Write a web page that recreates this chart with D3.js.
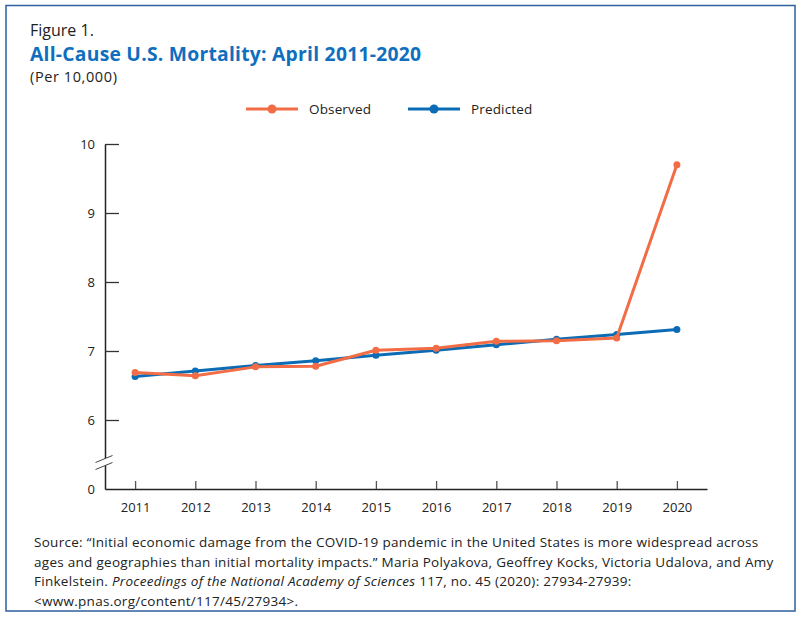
<!DOCTYPE html>
<html><head><meta charset="utf-8">
<script src="https://cdn.jsdelivr.net/npm/d3@7"></script>
<style>
html,body{margin:0;padding:0;background:#fff;}
svg{display:block;font-family:"Open Sans",sans-serif;}
</style></head>
<body><svg id="c" width="800" height="617"></svg>
<script>
const years = [2011,2012,2013,2014,2015,2016,2017,2018,2019,2020];
const observed = [6.69,6.64,6.77,6.78,7.01,7.04,7.14,7.15,7.19,9.70];
const predicted = [6.63,6.71,6.79,6.86,6.94,7.01,7.09,7.17,7.24,7.31];
const yTicks = [5,6,7,8,9,10];
const yTickLabels = ["0","6","7","8","9","10"];
const seriesNames = ["Observed","Predicted"];
const seriesColors = ["#f26d45","#0b6cb5"];
const sourceLines = [
  [{t:"Source: \u201cInitial economic damage from the COVID-19 pandemic in the United States is more widespread across"}],
  [{t:"ages and geographies than initial mortality impacts.\u201d Maria Polyakova, Geoffrey Kocks, Victoria Udalova, and Amy"}],
  [{t:"Finkelstein. "},{t:"Proceedings of the National Academy of Sciences",i:true},{t:" 117, no. 45 (2020): 27934-27939:"}],
  [{t:"<www.pnas.org/content/117/45/27934>."}]
];

const svg = d3.select("#c");
svg.append("rect").attr("x",6).attr("y",5.5).attr("width",789).attr("height",605.5)
  .attr("fill","#fff").attr("stroke","#2e5f9e").attr("stroke-width",1.5);

svg.append("text").attr("x",30).attr("y",36.3).attr("font-size",16).attr("fill","#222").text("Figure 1.");
svg.append("text").attr("x",30).attr("y",61).attr("font-size",19.3).attr("letter-spacing",0.25).attr("font-weight","bold").attr("fill","#0f6fbe").text("All-Cause U.S. Mortality: April 2011-2020");
svg.append("text").attr("x",30).attr("y",81.5).attr("font-size",14.5).attr("letter-spacing",0.6).attr("fill","#222").text("(Per 10,000)");

const x = d3.scaleLinear().domain([2010.5,2020.5]).range([105,707]);
const y = d3.scaleLinear().domain([5,10]).range([489,144]);

// legend
const legX = [246,408];
seriesNames.forEach((n,i)=>{
  const g = svg.append("g").attr("transform",`translate(${legX[i]},109)`);
  g.append("line").attr("x1",0).attr("x2",52).attr("stroke",seriesColors[i]).attr("stroke-width",3);
  g.append("circle").attr("cx",26).attr("r",4.5).attr("fill",seriesColors[i]);
  g.append("text").attr("x",63).attr("y",5).attr("font-size",13.5).attr("letter-spacing",0.15).attr("fill","#222").text(n);
});

// y axis
const yAxis = d3.axisLeft(y).tickValues(yTicks).tickFormat((d,i)=>yTickLabels[i]).tickSize(-14).tickSizeOuter(0).tickPadding(10);
const gy = svg.append("g").attr("transform","translate(105,0)").call(yAxis);
gy.select(".domain").attr("stroke","#222").attr("stroke-width",1.5);
gy.selectAll(".tick line").attr("stroke","#333").attr("stroke-width",1.3);
gy.selectAll(".tick text").attr("font-size",13).attr("fill","#222").attr("font-family","Open Sans, sans-serif");
gy.selectAll(".tick").filter(d=>d===5).select("line").remove();

// x axis
const xAxis = d3.axisBottom(x).tickValues(years).tickFormat(d3.format("d")).tickSize(-8).tickSizeOuter(0).tickPadding(14);
const gx = svg.append("g").attr("transform","translate(0,489)").call(xAxis);
gx.select(".domain").attr("stroke","#222").attr("stroke-width",1.5);
gx.selectAll(".tick line").attr("stroke","#555").attr("stroke-width",1.3);
gx.selectAll(".tick text").attr("font-size",13).attr("fill","#222").attr("font-family","Open Sans, sans-serif");

// axis break
const by = (y(5)+y(6))/2 + 6;
svg.append("polygon").attr("points",`${95.5},${by+2} ${112.5},${by-5} ${112.5},${by+2} ${95.5},${by+9}`).attr("fill","#fff");
[0,7].forEach(o=>{
  svg.append("line").attr("x1",95.5).attr("y1",by+2+o).attr("x2",112.5).attr("y2",by-5+o)
    .attr("stroke","#444").attr("stroke-width",1);
});

// series
const data = [observed,predicted];
const line = d3.line().x((d,i)=>x(years[i])).y(d=>y(d));
[1,0].forEach(s=>{
  svg.append("path").datum(data[s]).attr("d",line).attr("fill","none")
    .attr("stroke",seriesColors[s]).attr("stroke-width",3).attr("stroke-linejoin","round");
  svg.append("g").selectAll("circle").data(data[s]).join("circle")
    .attr("cx",(d,i)=>x(years[i])).attr("cy",d=>y(d)).attr("r",3.5).attr("fill",seriesColors[s]);
});

// source
const src = svg.append("g");
sourceLines.forEach((ln,i)=>{
  const t = src.append("text").attr("x",34).attr("y",547+i*19.5).attr("font-size",13.5).attr("letter-spacing",0.28).attr("fill","#222");
  ln.forEach(p=>t.append("tspan").attr("font-style",p.i?"italic":null).text(p.t));
});
</script></body></html>
